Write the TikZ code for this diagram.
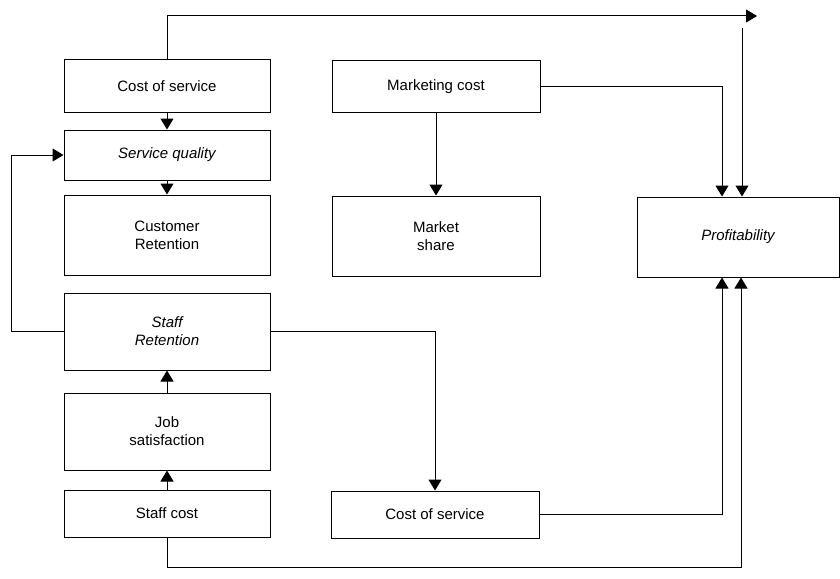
\documentclass[tikz,border=0pt]{standalone}
\usepackage{fontspec}
\setmainfont{Liberation Sans}
\usepackage{tikz}
\usetikzlibrary{arrows.meta}
\tikzset{
  box/.style={draw,line width=1pt,align=center,font=\fontsize{15}{18}\selectfont},
  leftbox/.style={box,minimum width=206pt},
  midbox/.style={box,minimum width=208pt}
}

\begin{document}
\begin{tikzpicture}[x=1pt,y=-1pt,->,>={Triangle[length=11pt,width=13pt]},line width=1pt]
  \useasboundingbox (0,0) rectangle (840,578);
  % left column
  \node [leftbox,minimum height=52pt] (cos1) at (167,86) {Cost of service};
  \node [leftbox,minimum height=50pt] (sq) at (167,155) {\itshape Service quality};
  \node [leftbox,minimum height=80pt] (cr) at (167,235) {Customer\\Retention};
  \node [leftbox,minimum height=77pt] (sr) at (167,331.5) {\itshape Staff\\\itshape Retention};
  \node [leftbox,minimum height=77pt] (js) at (167,431.5) {Job\\satisfaction};
  \node [leftbox,minimum height=47pt] (sc) at (167,513.5) {Staff cost};
  % middle column
  \node [midbox,minimum height=51pt] (mc) at (436,86.5) {Marketing cost};
  \node [midbox,minimum height=80pt] (ms) at (436,236) {Market\\share};
  \node [midbox,minimum height=47pt] (cos2) at (435,514.5) {Cost of service};
  % right
  \node [box,minimum width=202pt,minimum height=80pt,text width=180pt] (prof) at (738,237) {\itshape Profitability\hspace*{50pt}};
  \coordinate (c1) at (757,16);
  \coordinate (c2) at (742,28);
  % arrows
  \draw (cos1.north) |- (c1);
  \draw (c2) -- (c2 |- prof.north);
  \draw (mc.east) -| ([xshift=-16pt]prof.north);
  \draw (cos1) -- (sq);
  \draw (sq) -- (cr);
  \draw (mc) -- (ms);
  \draw (sr.west) -- ++(-52,0) |- (sq.west);
  \draw (sr.east) -| (cos2.north);
  \draw (js) -- (sr);
  \draw (sc) -- (js);
  \draw (cos2.east) -| ([xshift=-16pt]prof.south);
  \draw (sc.south) -- ++(0,30) -| ([xshift=3pt]prof.south);
\end{tikzpicture}
\end{document}
